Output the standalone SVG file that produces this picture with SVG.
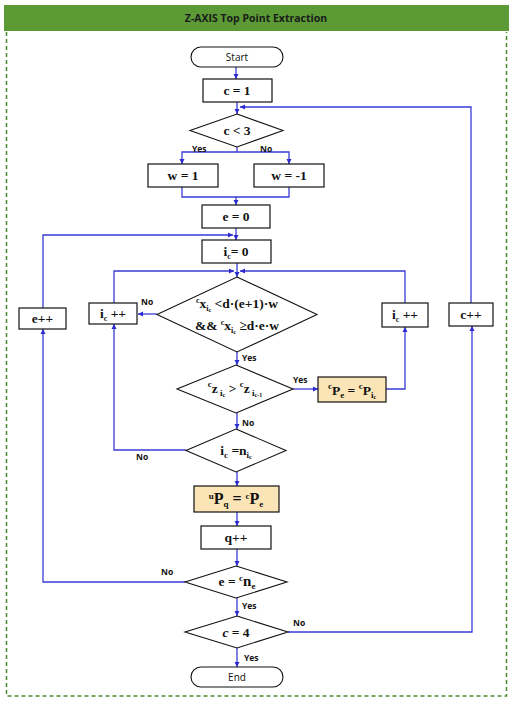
<svg xmlns="http://www.w3.org/2000/svg" width="513" height="704" viewBox="0 0 513 704">
<defs>
<marker id="ah" markerUnits="userSpaceOnUse" markerWidth="6" markerHeight="6" refX="5" refY="3" orient="auto">
<path d="M0,0.5 L5,3 L0,5.5 Z" fill="#2b2bd0"/>
</marker>
<style>
.bx{fill:#fff;stroke:#111;stroke-width:1.2}
.hl{fill:#FBE5B6;stroke:#111;stroke-width:1.2}
.dm{fill:#fff;stroke:#111;stroke-width:1.1}
.tm{fill:#fff;stroke:#111;stroke-width:1.1}
.cn{fill:none;stroke:#3b3bd6;stroke-width:1.3;marker-end:url(#ah)}
.ln{fill:none;stroke:#3b3bd6;stroke-width:1.3}
.m{font-family:"Liberation Serif",serif;font-weight:bold;font-size:13.5px;fill:#111;text-anchor:middle}
.s{font-family:"Open Sans","Liberation Sans",sans-serif;font-size:10px;fill:#111;text-anchor:middle}
.lb{font-family:"Open Sans","Liberation Sans",sans-serif;font-size:8.5px;font-weight:bold;fill:#111}
</style>
</defs>
<rect x="0" y="0" width="513" height="704" fill="#fff"/>
<g id="frame">
<rect x="4" y="5" width="505" height="26" fill="#5B9A35"/>
<text x="256" y="22" font-family="Open Sans, Liberation Sans, sans-serif" font-size="10.5" font-weight="bold" fill="#1a1a1a" text-anchor="middle">Z-AXIS Top Point Extraction</text>
<path d="M6.5 32 V696 H506.5 V32" fill="none" stroke="#4E8A2C" stroke-width="1.5" stroke-dasharray="4,3"/>
</g>
<g id="connectors">
<path class="cn" d="M236 67 V79"/>
<path class="cn" d="M237 102 V114"/>
<path class="cn" d="M471 303 V107 H240"/>
<path class="ln" d="M237 147 V152"/>
<path class="cn" d="M237 152 H182 V164"/>
<path class="cn" d="M237 152 H289 V164"/>
<path class="ln" d="M182 187 V197 H289 V187"/>
<path class="cn" d="M236 197 V205"/>
<path class="cn" d="M236 228 V240"/>
<path class="cn" d="M43 308 V235 H233"/>
<path class="cn" d="M237 263 V277"/>
<path class="cn" d="M114 303 V271 H234"/>
<path class="cn" d="M405 303 V271 H240"/>
<path class="cn" d="M157 314 H138"/>
<path class="cn" d="M237 352 V365"/>
<path class="cn" d="M293 389 H318"/>
<path class="cn" d="M386 389 H405 V327"/>
<path class="cn" d="M237 413 V429"/>
<path class="cn" d="M186 450 H114 V324"/>
<path class="cn" d="M237 472 V486"/>
<path class="cn" d="M237 512 V526"/>
<path class="cn" d="M237 549 V566"/>
<path class="cn" d="M185 582 H43 V329"/>
<path class="cn" d="M237 598 V616"/>
<path class="cn" d="M288 632 H472 V326"/>
<path class="cn" d="M237 648 V667"/>
<text class="lb" x="192" y="152">Yes</text>
<text class="lb" x="260" y="152">No</text>
<text class="lb" x="141" y="305">No</text>
<text class="lb" x="242" y="361">Yes</text>
<text class="lb" x="293" y="383">Yes</text>
<text class="lb" x="242" y="426">No</text>
<text class="lb" x="136" y="460">No</text>
<text class="lb" x="161" y="575">No</text>
<text class="lb" x="242" y="609">Yes</text>
<text class="lb" x="293" y="626">No</text>
<text class="lb" x="244" y="661">Yes</text>
</g>
<g id="start">
<rect class="tm" x="191" y="47" width="92" height="20" rx="10"/>
<text class="s" x="237" y="61">Start</text>
</g>
<g id="c1">
<rect class="bx" x="203" y="79" width="69" height="23"/>
<text class="m" x="237" y="95">c = 1</text>
</g>
<g id="c3">
<polygon class="dm" points="237,114 283,130.5 237,147 190,130.5"/>
<text class="m" x="237" y="135">c &lt; 3</text>
</g>
<g id="w1">
<rect class="bx" x="148" y="164" width="70" height="23"/>
<text class="m" x="183" y="180">w = 1</text>
</g>
<g id="wm1">
<rect class="bx" x="254" y="164" width="70" height="23"/>
<text class="m" x="289" y="180">w = -1</text>
</g>
<g id="e0">
<rect class="bx" x="202" y="205" width="68" height="23"/>
<text class="m" x="236" y="221">e = 0</text>
</g>
<g id="ic0">
<rect class="bx" x="202" y="240" width="69" height="23"/>
<text class="m" x="236" y="256">i<tspan font-size="8" dy="3">c</tspan><tspan dy="-3">= 0</tspan></text>
</g>
<g id="cond1">
<polygon class="dm" points="237,277 317,314.5 237,352 157,314.5"/>
<text class="m" x="237" y="308"><tspan font-size="8" dy="-5">c</tspan><tspan dy="5">x</tspan><tspan font-size="8" dy="3">i</tspan><tspan font-size="6" dy="1">c</tspan><tspan dy="-4"> &lt;d·(e+1)·w</tspan></text>
<text class="m" x="237" y="330">&amp;&amp; <tspan font-size="8" dy="-5">c</tspan><tspan dy="5">x</tspan><tspan font-size="8" dy="3">i</tspan><tspan font-size="6" dy="1">c</tspan><tspan dy="-4"> ≥d·e·w</tspan></text>
</g>
<g id="iclp">
<rect class="bx" x="89" y="303" width="48" height="21"/>
<text class="m" x="113" y="318">i<tspan font-size="8" dy="3">c</tspan><tspan dy="-3"> ++</tspan></text>
</g>
<g id="eplus">
<rect class="bx" x="19" y="308" width="47" height="21"/>
<text class="m" x="42.5" y="323">e++</text>
</g>
<g id="icrp">
<rect class="bx" x="382" y="303" width="46" height="24"/>
<text class="m" x="405" y="319">i<tspan font-size="8" dy="3">c</tspan><tspan dy="-3"> ++</tspan></text>
</g>
<g id="cplus">
<rect class="bx" x="449" y="303" width="44" height="23"/>
<text class="m" x="471" y="319">c++</text>
</g>
<g id="cond2">
<polygon class="dm" points="236,365 293,389 236,413 177,389"/>
<text class="m" x="235" y="393" font-size="15"><tspan font-size="9" dy="-6">c</tspan><tspan dy="6">z</tspan><tspan font-size="9" dy="3"> i</tspan><tspan font-size="6" dy="1">c</tspan><tspan dy="-4">  &gt;  </tspan><tspan font-size="9" dy="-6">c</tspan><tspan dy="6">z</tspan><tspan font-size="9" dy="3"> i</tspan><tspan font-size="6" dy="1">c-1</tspan></text>
</g>
<g id="pe">
<rect class="hl" x="318" y="377" width="68" height="25"/>
<text class="m" x="352" y="395" font-size="16"><tspan font-size="9" dy="-6">c</tspan><tspan dy="6">P</tspan><tspan font-size="9" dy="3">e</tspan><tspan dy="-3"> = </tspan><tspan font-size="9" dy="-6">c</tspan><tspan dy="6">P</tspan><tspan font-size="9" dy="3">i</tspan><tspan font-size="6" dy="1">c</tspan></text>
</g>
<g id="cond3">
<polygon class="dm" points="236,429 286,450.5 236,472 186,450.5"/>
<text class="m" x="236" y="455" font-size="15">i<tspan font-size="9" dy="3">c</tspan><tspan dy="-3"> =n</tspan><tspan font-size="9" dy="3">i</tspan><tspan font-size="6" dy="1">c</tspan></text>
</g>
<g id="upq">
<rect class="hl" x="194" y="486" width="85" height="26"/>
<text class="m" x="236" y="504"><tspan font-size="9" dy="-5">u</tspan><tspan font-size="16" dy="5">P</tspan><tspan font-size="9" dy="3">q</tspan><tspan font-size="16" dy="-3"> = </tspan><tspan font-size="9" dy="-5">c</tspan><tspan font-size="16" dy="5">P</tspan><tspan font-size="9" dy="3">e</tspan></text>
</g>
<g id="qplus">
<rect class="bx" x="201" y="526" width="70" height="23"/>
<text class="m" x="236" y="542">q++</text>
</g>
<g id="cond4">
<polygon class="dm" points="236,566 287,582 236,598 185,582"/>
<text class="m" x="237" y="586">e = <tspan font-size="9" dy="-5">c</tspan><tspan font-size="15" dy="5">n</tspan><tspan font-size="9" dy="3">e</tspan></text>
</g>
<g id="cond5">
<polygon class="dm" points="237,616 288,632 237,648 185,632"/>
<text class="m" x="236" y="637"><tspan font-style="italic">c</tspan> = 4</text>
</g>
<g id="end">
<rect class="tm" x="191" y="667" width="92" height="20" rx="10"/>
<text class="s" x="237" y="681">End</text>
</g>
</svg>
